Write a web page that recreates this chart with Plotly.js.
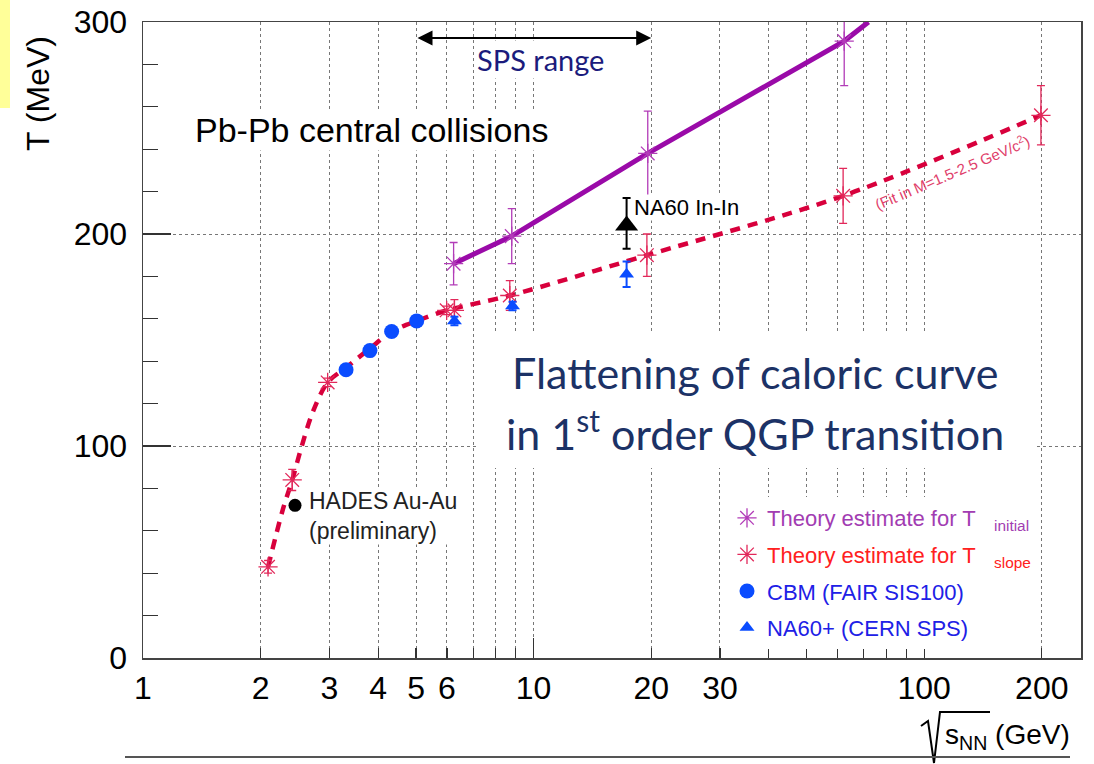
<!DOCTYPE html>
<html>
<head>
<meta charset="utf-8">
<script src="https://cdn.plot.ly/plotly-3.0.1.min.js"></script>
<style>html,body{margin:0;padding:0;background:#fff;}#chart{width:1094px;height:764px;}</style>
</head>
<body>
<div id="chart"></div>
<script>
// ---- Data ----
const initX   = [6.24, 8.79, 19.6, 62.4];
const initT   = [186, 199, 238, 291];
const initErr = [10, 13, 20, 21];
const initLineX = [6.24, 8.79, 19.6, 62.4, 72];
const initLineT = [186, 199, 238, 291, 300];

const slopeX   = [2.09, 2.41, 2.97, 5.99, 6.27, 8.69, 19.5, 62, 199];
const slopeT   = [43, 84, 130, 164, 164, 171, 190, 218, 256];
const slopeErr = [3, 5, 2, 2, 5, 7, 10, 13, 14];

const fitX = [2.09, 2.28, 2.41, 2.55, 2.72, 2.97, 3.31, 3.81, 4.33, 5.02, 6.0, 8.7, 19.5, 62, 199];
const fitT = [43, 70, 84, 100, 116, 130, 137, 146, 154, 159, 164, 171, 190, 218, 256];

const cbmX = [3.31, 3.81, 4.33, 5.02];
const cbmT = [136, 145, 154, 159];

const na60pX = [6.27, 8.83, 17.3];
const na60pT = [159, 166, 181];
const na60pErr = [2, 2, 6];

const na60InX = [17.3];
const na60InT = [204];
const na60InErrPlus = [13];
const na60InErrMinus = [11];

const hadesX = [2.45];
const hadesT = [72];

const spsRange = [5, 20];

const xTickVals = [1, 2, 3, 4, 5, 6, 10, 20, 30, 100, 200];
const xTickText = ['1', '2', '3', '4', '5', '6', '10', '20', '30', '100', '200'];
const xMinorVals = [7, 8, 9, 40, 50, 60, 70, 80, 90];
const xDecadeVals = [1, 10, 100];
const yTickVals = [0, 100, 200, 300];

// ---- helpers for pixel -> paper placement of decorations ----
const L = 143, R = 1081, T0 = 22, B = 658;
const px = v => (v - L) / (R - L);
const py = v => (B - v) / (B - T0);

const MAG = '#b23cb8', MAGLINE = '#9a0aa8', RED = '#e2285a', REDLINE = '#d8003c', BLUE = '#0a4cff';
const FONT = 'Liberation Sans, Arial, sans-serif';
const SLIDE = 'Lato, Open Sans, sans-serif';

const traces = [
  { x: fitX, y: fitT, mode: 'lines', line: { color: REDLINE, width: 4.5, dash: '10px,8px', shape: 'spline', smoothing: 0.9 },
    showlegend: false, hoverinfo: 'skip', legendgroup: 'z1' },
  { x: initLineX, y: initLineT, mode: 'lines', line: { color: MAGLINE, width: 5 }, showlegend: false, hoverinfo: 'skip', legendgroup: 'z2' },
  { x: initX, y: initT, mode: 'markers', name: '<span style="color:#a23cb2">Theory estimate for T\u00a0\u00a0\u00a0<sub>initial</sub></span>',
    legendgroup: 'a', legendrank: 1,
    marker: { symbol: 'asterisk-open', size: 16, color: MAG, line: { color: MAG, width: 1.3 } },
    error_y: { type: 'data', array: initErr, visible: true, color: MAG, thickness: 1.3, width: 4 } },
  { x: slopeX, y: slopeT, mode: 'markers', name: '<span style="color:#ff2020">Theory estimate for T\u00a0\u00a0\u00a0<sub>slope</sub></span>',
    legendgroup: 'b', legendrank: 2,
    marker: { symbol: 'asterisk-open', size: 16, color: RED, line: { color: RED, width: 1.3 } },
    error_y: { type: 'data', array: slopeErr, visible: true, color: RED, thickness: 1.3, width: 4 } },
  { x: cbmX, y: cbmT, mode: 'markers', name: '<span style="color:#2020e6">CBM (FAIR SIS100)</span>',
    legendgroup: 'c', legendrank: 3,
    marker: { symbol: 'circle', size: 15, color: BLUE } },
  { x: na60pX, y: na60pT, mode: 'markers', name: '<span style="color:#2020e6">NA60+ (CERN SPS)</span>',
    legendgroup: 'd', legendrank: 4,
    marker: { symbol: 'triangle-up', size: 13, color: BLUE },
    error_y: { type: 'data', array: na60pErr, visible: true, color: BLUE, thickness: 2, width: 4 } },
  { x: na60InX, y: na60InT, mode: 'markers', showlegend: false, legendgroup: 'z3',
    marker: { symbol: 'triangle-up', size: 20, color: '#000' },
    error_y: { type: 'data', symmetric: false, array: na60InErrPlus, arrayminus: na60InErrMinus, visible: true, color: '#000', thickness: 2, width: 4 } },
  { x: hadesX, y: hadesT, mode: 'markers', showlegend: false, legendgroup: 'z4', marker: { symbol: 'circle', size: 13, color: '#000' } },
  { x: xDecadeVals, y: [null, null, null], xaxis: 'x2', mode: 'markers', showlegend: false, hoverinfo: 'skip', legendgroup: 'z5' }
];

const layout = {
  width: 1094, height: 764,
  margin: { l: L, r: 1094 - R, t: T0, b: 764 - B },
  paper_bgcolor: '#fff', plot_bgcolor: '#fff',
  font: { family: FONT, size: 20, color: '#000' },
  showlegend: true,
  legend: { x: px(727), y: py(497), xanchor: 'left', yanchor: 'top', bgcolor: '#fff', borderwidth: 0,
            font: { family: FONT, size: 22 }, tracegroupgap: 5, itemwidth: 30, traceorder: 'grouped' },
  xaxis: {
    type: 'log', range: [0, Math.log10(252)],
    tickmode: 'array', tickvals: xTickVals, ticktext: xTickText,
    ticks: 'inside', ticklen: 10, tickwidth: 1.2, tickcolor: '#333',
    tickfont: { family: FONT, size: 32 }, ticklabelstandoff: 1,
    showline: true, linecolor: '#444', linewidth: 1.5, mirror: true,
    showgrid: true, gridcolor: '#777', griddash: 'dot', gridwidth: 1,
    minor: { tickmode: 'array', tickvals: xMinorVals, ticks: 'inside', ticklen: 10, tickcolor: '#333',
             showgrid: true, gridcolor: '#777', griddash: 'dot', gridwidth: 1 },
    zeroline: false
  },
  xaxis2: {
    type: 'log', overlaying: 'x', matches: 'x', range: [0, Math.log10(252)],
    tickmode: 'array', tickvals: xDecadeVals, ticks: 'inside', ticklen: 20, tickcolor: '#333', tickwidth: 1.2,
    showticklabels: false, showgrid: false, showline: false, zeroline: false, side: 'bottom'
  },
  yaxis: {
    range: [0, 300],
    tickmode: 'array', tickvals: yTickVals,
    ticks: 'inside', ticklen: 28, tickwidth: 1.2, tickcolor: '#333',
    tickfont: { family: FONT, size: 32 }, ticklabelstandoff: 8,
    showline: true, linecolor: '#444', linewidth: 1.5, mirror: true,
    showgrid: true, gridcolor: '#777', griddash: 'dot', gridwidth: 1,
    minor: { dtick: 20, ticks: 'inside', ticklen: 15, tickcolor: '#333', showgrid: false },
    zeroline: false
  },
  shapes: [
    { type: 'rect', xref: 'paper', yref: 'paper', x0: px(0), x1: px(10), y0: py(0), y1: py(108),
      fillcolor: '#ffff99', line: { width: 0 }, layer: 'above' },
    { type: 'rect', xref: 'paper', yref: 'paper', x0: px(478), x1: px(1035), y0: py(468), y1: py(332),
      fillcolor: '#fff', line: { width: 0 }, layer: 'above' },
    { type: 'path', xref: 'paper', yref: 'paper',
      path: `M ${px(921)},${py(726)} L ${px(928)},${py(721)} L ${px(934)},${py(763)} L ${px(940)},${py(712)} L ${px(990)},${py(712)}`,
      line: { color: '#000', width: 2 } },
    { type: 'line', xref: 'paper', yref: 'paper', x0: px(125), x1: px(1070), y0: py(757), y1: py(757),
      line: { color: '#555', width: 2 } }
  ],
  annotations: [
    { xref: 'paper', yref: 'paper', x: px(38), y: py(94), xanchor: 'center', yanchor: 'middle',
      text: 'T (MeV)', textangle: -90, showarrow: false, font: { family: FONT, size: 32 } },
    { xref: 'paper', yref: 'paper', x: px(193), y: py(130), xanchor: 'left', yanchor: 'middle',
      text: 'Pb-Pb central collisions', showarrow: false, font: { family: FONT, size: 34 }, bgcolor: '#fff' },
    { xref: 'paper', yref: 'paper', x: px(540), y: py(60), xanchor: 'center', yanchor: 'middle',
      text: 'SPS range', showarrow: false, font: { family: SLIDE, size: 29, color: '#1b1b7c' }, bgcolor: '#fff' },
    { xref: 'x', yref: 'paper', x: Math.log10(spsRange[1]), y: py(38), axref: 'x', ax: Math.log10(spsRange[0]),
      ayref: 'pixel', ay: 0, text: '', showarrow: true, arrowside: 'end+start', arrowhead: 2, arrowsize: 1.5,
      arrowwidth: 2, arrowcolor: '#000', standoff: 0, startstandoff: 0 },
    { xref: 'paper', yref: 'paper', x: px(755), y: py(373), xanchor: 'center', yanchor: 'middle',
      text: 'Flattening of caloric curve', showarrow: false, font: { family: SLIDE, size: 43, color: '#1c3266' } },
    { xref: 'paper', yref: 'paper', x: px(755), y: py(430), xanchor: 'center', yanchor: 'middle',
      text: 'in 1<sup>st</sup> order QGP transition', showarrow: false, font: { family: SLIDE, size: 43, color: '#1c3266' } },
    { xref: 'paper', yref: 'paper', x: px(633), y: py(207), xanchor: 'left', yanchor: 'middle',
      text: 'NA60 In-In', showarrow: false, font: { family: FONT, size: 22 }, bgcolor: '#fff', borderpad: 0 },
    { xref: 'paper', yref: 'paper', x: px(308), y: py(516), xanchor: 'left', yanchor: 'middle', align: 'left',
      text: 'HADES Au-Au<br>(preliminary)', showarrow: false, font: { family: FONT, size: 23, color: '#222' }, bgcolor: '#fff', borderpad: 0 },
    { xref: 'paper', yref: 'paper', x: px(952), y: py(172), xanchor: 'center', yanchor: 'middle',
      text: '(Fit in M=1.5-2.5 GeV/c<sup>2</sup>)', textangle: -23,
      showarrow: false, font: { family: FONT, size: 15, color: '#e0406a' } },
    { xref: 'paper', yref: 'paper', x: px(943), y: py(736), xanchor: 'left', yanchor: 'middle',
      text: 's<sub>NN</sub> (GeV)', showarrow: false, font: { family: FONT, size: 28 } }
  ]
};

Plotly.newPlot('chart', traces, layout, { displayModeBar: false, staticPlot: true });
</script>
</body>
</html>
